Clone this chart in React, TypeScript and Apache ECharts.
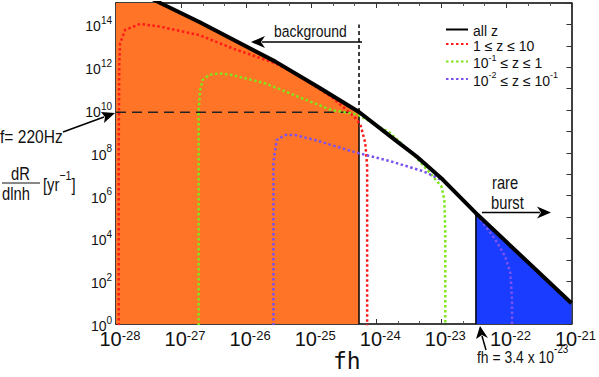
import React, { useEffect, useRef } from "react";
import * as echarts from "echarts";

// all z (black) curve
const ALLZ_FH = [3.55e-28, 4.79e-28, 1.91e-27, 2.82e-26, 1.26e-25, 5.43e-25, 2.05e-24, 4.13e-24, 1.05e-23, 3.37e-23, 1e-21];
const ALLZ_R = [1.58e15, 1e15, 1.29e14, 1.82e12, 1.23e11, 8.1e9, 3.52e8, 6.9e7, 5.6e6, 1.55e5, 9.3];

// background (orange) region, under the all-z curve
const BG_FH = [1e-28, 3.55e-28, 4.79e-28, 1.91e-27, 2.82e-26, 1.26e-25, 5.43e-25];
const BG_R = [1e16, 1.58e15, 1e15, 1.29e14, 1.82e12, 1.23e11, 8.1e9];

// rare burst (blue) region
const BURST_FH = [3.4e-23, 1e-21];
const BURST_R = [1.5e5, 9.3];

// 1 <= z <= 10 (red)
const RED_FH = [1.1e-28, 1.1e-28, 1.12e-28, 1.15e-28, 1.38e-28, 2.34e-28, 4.68e-28, 1.91e-27, 6.17e-27, 2.82e-26, 6.31e-26, 2.04e-25, 4.57e-25, 5.69e-25, 6.76e-25, 7.24e-25, 7.24e-25];
const RED_R = [0.5, 1e8, 1e12, 1.26e13, 5.5e13, 1.05e14, 7.94e13, 3.16e13, 7.59e12, 1.51e12, 4.37e11, 4.17e10, 4.9e9, 2.14e9, 2.95e8, 2.34e7, 0.5];

// 0.1 <= z <= 1 (green)
const GREEN_FH = [1.86e-27, 1.86e-27, 1.95e-27, 2.14e-27, 2.69e-27, 3.8e-27, 6.03e-27, 1.95e-26, 6.31e-26, 2.04e-25, 5.07e-25, 1.62e-24, 4.13e-24, 7.41e-24, 1e-23, 1.11e-23, 1.15e-23, 1.15e-23];
const GREEN_R = [0.5, 1e10, 7.94e10, 2.51e11, 4.37e11, 5.13e11, 4.37e11, 1.78e11, 4.17e10, 1e10, 6.3e9, 8.7e8, 5.9e7, 7.9e6, 2.7e6, 6.6e5, 1.86e4, 0.5];

// 0.01 <= z <= 0.1 (purple)
const PURPLE_FH = [2.63e-26, 2.63e-26, 2.7e-26, 2.95e-26, 3.98e-26, 5.62e-26, 1.14e-25, 3.63e-25, 5.07e-25, 1.62e-24, 5.25e-24, 1.11e-23, 1.62e-23, 3.37e-23, 6.76e-23, 9.55e-23, 1.15e-22, 1.22e-22, 1.22e-22];
const PURPLE_R = [0.5, 3.16e7, 6.6e7, 3.98e8, 6.76e8, 6.76e8, 3.98e8, 1.35e8, 1e8, 4.1e7, 1.38e7, 4.7e6, 1.5e6, 1.55e5, 8.7e3, 1.44e3, 240, 13, 0.5];

// guide lines
const F220_R = 7.8e9;
const F220_END_FH = 4.5e-25;
const BG_EDGE_FH = 5.43e-25;
const BG_EDGE_R = 8.1e9;
const BG_DASH_TOP_R = 1e14;
const BURST_EDGE_FH = 3.4e-23;

// axes, in decades (10^n): fh from 10^-28 to 10^-21, dR/dlnh from 10^0 to 10^15
const X_MIN_EXP = -28;
const X_MAX_EXP = -21;
const Y_MIN_EXP = 0;
const Y_MAX_EXP = 15;

const LEGEND_NAMES = ["all z", "1 ≤ z ≤ 10", "10^-1 ≤ z ≤ 1", "10^-2 ≤ z ≤ 10^-1"];

const FONT = '"Liberation Sans", Arial, sans-serif';

// both axes are drawn per decade
const zip = (xs: number[], ys: number[]) => xs.map((x, i) => [Math.log10(x), Math.log10(ys[i])]);

export default function App() {
  const ref = useRef<HTMLDivElement>(null);
  useEffect(() => {
    if (!ref.current) return;
    const chart = echarts.init(ref.current, null, { renderer: "svg" });
    const dotted = (color: string) => ({ color, width: 2.5, type: [2.5, 2.5] as number[] });

    const txt = (text: string, x: number, y: number, size: number, sx = 0.82) => ({
      type: "text",
      x,
      y,
      scaleX: sx,
      style: { text, font: size + "px " + FONT, fill: "#111", align: "left", verticalAlign: "middle" },
      z: 50,
    });

    const frameAxis = {
      axisLine: { show: true, onZero: false, lineStyle: { color: "#000", width: 1.5 } },
      axisTick: { show: true, inside: true, length: 5, lineStyle: { color: "#333" } },
      splitLine: { show: false },
    };

    const option: any = {
      animation: false,
      backgroundColor: "#ffffff",
      textStyle: { fontFamily: FONT },
      grid: { left: 116, top: 3, right: 22, bottom: 53, containLabel: false },
      legend: {
        data: LEGEND_NAMES,
        orient: "vertical",
        left: 440,
        top: 19,
        itemWidth: 22,
        itemHeight: 8,
        itemGap: 0.5,
        itemStyle: { opacity: 0 },
        textStyle: {
          fontFamily: FONT,
          fontSize: 14,
          color: "#111",
          rich: {
            t: { fontFamily: FONT, fontSize: 14, color: "#111", verticalAlign: "bottom", lineHeight: 17 },
            s: { fontFamily: FONT, fontSize: 9, color: "#111", verticalAlign: "top", lineHeight: 17 },
          },
        },
        formatter: (name: string) => {
          if (name === "10^-1 ≤ z ≤ 1") return "{t|10}{s|-1}{t| ≤ z ≤ 1}";
          if (name === "10^-2 ≤ z ≤ 10^-1") return "{t|10}{s|-2}{t| ≤ z ≤ 10}{s|-1}";
          return "{t|" + name + "}";
        },
      },
      xAxis: [
        {
          type: "value",
          min: X_MIN_EXP,
          max: X_MAX_EXP,
          interval: 1,
          ...frameAxis,
          minorTick: { show: true, splitNumber: 3, length: 3, lineStyle: { color: "#555" } },
          axisLabel: {
            margin: 5,
            padding: [0, 0, 0, 8],
            formatter: (v: number) => "{b|10}{s|" + Math.round(v) + "}",
            rich: {
              b: { fontFamily: FONT, fontSize: 20, color: "#111", verticalAlign: "bottom", lineHeight: 20 },
              s: { fontFamily: FONT, fontSize: 13, color: "#111", verticalAlign: "top", lineHeight: 20 },
            },
          },
        },
        {
          type: "value",
          min: X_MIN_EXP,
          max: X_MAX_EXP,
          interval: 1,
          position: "top",
          ...frameAxis,
          minorTick: { show: true, splitNumber: 3, length: 3, lineStyle: { color: "#555" } },
          axisLabel: { show: false },
        },
      ],
      yAxis: [
        {
          type: "value",
          min: Y_MIN_EXP,
          max: Y_MAX_EXP,
          interval: 1,
          ...frameAxis,
          axisLabel: {
            margin: 4,
            formatter: (v: number) => {
              const e = Math.round(v);
              return e % 2 === 0 ? "{b|10}{s|" + e + "}" : "";
            },
            rich: {
              b: { fontFamily: FONT, fontSize: 14, color: "#111", verticalAlign: "bottom", lineHeight: 18 },
              s: { fontFamily: FONT, fontSize: 10, color: "#111", verticalAlign: "top", lineHeight: 18 },
            },
          },
        },
        {
          type: "value",
          min: Y_MIN_EXP,
          max: Y_MAX_EXP,
          interval: 1,
          position: "right",
          ...frameAxis,
          axisLabel: { show: false },
        },
      ],
      series: [
        {
          name: "background-area",
          type: "line",
          data: zip(BG_FH, BG_R),
          symbol: "none",
          lineStyle: { width: 0 },
          areaStyle: { color: "#ff7426", opacity: 1, origin: "start" },
          z: 1,
          silent: true,
        },
        {
          name: "burst-area",
          type: "line",
          data: zip(BURST_FH, BURST_R),
          symbol: "none",
          lineStyle: { width: 0 },
          areaStyle: { color: "#1a3cff", opacity: 1, origin: "start" },
          z: 1,
          silent: true,
        },
        {
          name: "f220",
          type: "line",
          data: zip([1e-28, F220_END_FH], [F220_R, F220_R]),
          symbol: "none",
          lineStyle: { color: "#222", width: 1.5, type: [10, 6] },
          z: 3,
        },
        {
          name: "bg-edge",
          type: "line",
          data: zip([BG_EDGE_FH, BG_EDGE_FH], [1, BG_EDGE_R]),
          symbol: "none",
          lineStyle: { color: "#000", width: 1.5 },
          z: 3,
        },
        {
          name: "bg-dash",
          type: "line",
          data: zip([BG_EDGE_FH, BG_EDGE_FH], [BG_EDGE_R, BG_DASH_TOP_R]),
          symbol: "none",
          lineStyle: { color: "#000", width: 1.5, type: [4, 3] },
          z: 3,
        },
        {
          name: "burst-edge",
          type: "line",
          data: zip([BURST_EDGE_FH, BURST_EDGE_FH], [1, BURST_R[0]]),
          symbol: "none",
          lineStyle: { color: "#000", width: 1.5 },
          z: 3,
        },
        {
          name: "1 ≤ z ≤ 10",
          type: "line",
          data: zip(RED_FH, RED_R),
          symbol: "none",
          color: "#ff1a1a",
          lineStyle: dotted("#ff1a1a"),
          z: 4,
        },
        {
          name: "10^-1 ≤ z ≤ 1",
          type: "line",
          data: zip(GREEN_FH, GREEN_R),
          symbol: "none",
          color: "#7fe61e",
          lineStyle: dotted("#7fe61e"),
          z: 4,
        },
        {
          name: "10^-2 ≤ z ≤ 10^-1",
          type: "line",
          data: zip(PURPLE_FH, PURPLE_R),
          symbol: "none",
          color: "#7b52f0",
          lineStyle: dotted("#7b52f0"),
          z: 4,
        },
        {
          name: "all z",
          type: "line",
          data: zip(ALLZ_FH, ALLZ_R),
          symbol: "none",
          color: "#000",
          lineStyle: { color: "#000", width: 4 },
          z: 5,
        },
      ],
      graphic: [
        // background label + arrow
        txt("background", 274, 31, 17),
        { type: "line", shape: { x1: 362, y1: 42, x2: 262, y2: 42 }, style: { stroke: "#000", lineWidth: 1.5 } },
        { type: "polygon", shape: { points: [[251, 42], [265, 36], [261, 42], [265, 48]] }, style: { fill: "#000" } },
        // f = 220Hz
        txt("f= 220Hz", 0, 136, 19),
        { type: "line", shape: { x1: 63, y1: 132, x2: 104, y2: 117 }, style: { stroke: "#000", lineWidth: 1.5 } },
        { type: "polygon", shape: { points: [[115, 113], [101, 112], [105, 117], [104, 123]] }, style: { fill: "#000" } },
        // y axis title
        txt("dR", 11, 173, 18),
        { type: "line", shape: { x1: 2, y1: 183, x2: 40, y2: 183 }, style: { stroke: "#111", lineWidth: 1 } },
        txt("dlnh", 2, 193, 18),
        {
          type: "text",
          x: 43,
          y: 181,
          scaleX: 0.82,
          style: {
            text: "{t|[yr}{s|−1}{t|]}",
            align: "left",
            verticalAlign: "middle",
            rich: {
              t: { fontFamily: FONT, fontSize: 18, fill: "#111", verticalAlign: "bottom", lineHeight: 24 },
              s: { fontFamily: FONT, fontSize: 13, fill: "#111", verticalAlign: "top", lineHeight: 24 },
            },
          },
        },
        // x axis title
        { type: "text", x: 333, y: 361, style: { text: "fh", font: "23px 'DejaVu Sans Mono', monospace", fill: "#111", align: "left", verticalAlign: "middle" } },
        // fh = 3.4 x 10^-23
        {
          type: "text",
          x: 477,
          y: 354,
          scaleX: 0.82,
          style: {
            text: "{t|fh = 3.4 x 10}{s|-23}",
            align: "left",
            verticalAlign: "middle",
            rich: {
              t: { fontFamily: FONT, fontSize: 17, fill: "#111", verticalAlign: "bottom", lineHeight: 22 },
              s: { fontFamily: FONT, fontSize: 12, fill: "#111", verticalAlign: "top", lineHeight: 22 },
            },
          },
        },
        { type: "line", shape: { x1: 486, y1: 350, x2: 482, y2: 336 }, style: { stroke: "#000", lineWidth: 1.5 } },
        { type: "polygon", shape: { points: [[480, 326], [476, 339], [482, 335], [488, 338]] }, style: { fill: "#000" } },
        // rare burst
        txt("rare", 492, 182, 18),
        txt("burst", 491, 202, 18),
        { type: "line", shape: { x1: 482, y1: 212.5, x2: 540, y2: 212.5 }, style: { stroke: "#000", lineWidth: 1.5 } },
        { type: "polygon", shape: { points: [[551, 212.5], [537, 206.5], [541, 212.5], [537, 218.5]] }, style: { fill: "#000" } },
      ],
    };
    chart.setOption(option);
    return () => chart.dispose();
  }, []);
  return (
    <div
      ref={ref}
      style={{ position: "fixed", left: 0, top: 0, width: 599, height: 377, background: "#fff" }}
    />
  );
}
